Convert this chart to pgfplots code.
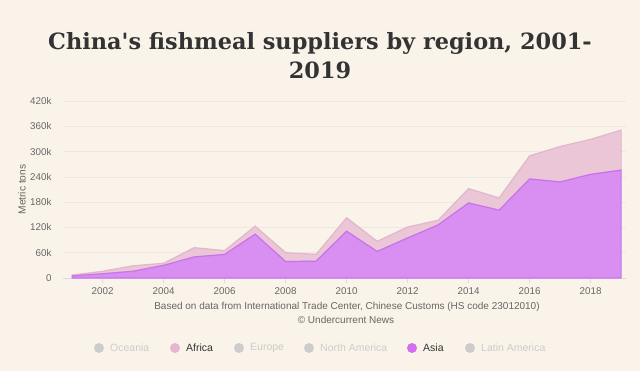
\documentclass[border=0pt]{standalone}
\usepackage{fontspec}
\setmainfont{Liberation Sans}
\newfontfamily\titlefont{DejaVu Serif}
\usepackage{pgfplots}
\pgfplotsset{compat=1.18}
\definecolor{bg}{HTML}{FAF3E9}
\definecolor{titlec}{HTML}{333333}
\definecolor{tickc}{HTML}{666666}
\definecolor{gridc}{HTML}{EDE8E0}
\definecolor{axisc}{HTML}{D8D8E8}
\definecolor{asiafill}{HTML}{D98EF2}
\definecolor{asialine}{HTML}{C774EA}
\definecolor{afrfill}{HTML}{EBC6D6}
\definecolor{afrline}{HTML}{E2B6CC}
\definecolor{asiamark}{HTML}{D46EF0}
\definecolor{afrmark}{HTML}{E8B4CE}
\definecolor{offc}{HTML}{CCCCCC}
\begin{document}
\begin{tikzpicture}[x=1pt,y=1pt]
\fill[bg] (0,0) rectangle (640,371);
\useasboundingbox (0,0) rectangle (640,371);
\node[font=\titlefont\bfseries\fontsize{22.4}{30}\selectfont, text=titlec, anchor=base] at (320,321) {China's fishmeal suppliers by region, 2001-};
\node[font=\titlefont\bfseries\fontsize{22.4}{30}\selectfont, text=titlec, anchor=base] at (320,292) {2019};
\begin{axis}[
  at={(63pt,93pt)}, anchor=south west,
  scale only axis, width=563pt, height=177pt,
  xmin=2000.7, xmax=2019.16, ymin=0, ymax=420000,
  stack plots=y,
  axis line style={draw=none},
  axis x line*=bottom,
  axis y line*=left,
  x axis line style={draw=axisc, line width=0.8pt},
  xtick={2002,2004,...,2018},
  ytick={0,60000,120000,180000,240000,300000,360000,420000},
  yticklabels={0,60k,120k,180k,240k,300k,360k,420k},
  scaled y ticks=false,
  /pgf/number format/1000 sep={},
  /pgf/number format/assume math mode=true,
  ymajorgrids, grid style={draw=gridc, line width=0.6pt},
  tick label style={font=\fontsize{9.8}{11}\selectfont, text=tickc},
  xtick style={draw=axisc, line width=0.6pt},
  ytick style={draw=none},
  major tick length=5pt,
  tick align=outside,
  xticklabel style={yshift=-1pt},
  yticklabel style={xshift=-3pt},
  ylabel={Metric tons},
  ylabel style={font=\fontsize{10.2}{12}\selectfont, text=tickc, at={(axis description cs:-0.0728,0.5)}, anchor=center},
  clip=false,
]
\addplot[draw=asialine, line width=1.2pt, fill=asiafill] coordinates {
(2001,5000) (2002,10000) (2003,16000) (2004,30000) (2005,50000) (2006,56000)
(2007,104000) (2008,39000) (2009,40000) (2010,111000) (2011,63000) (2012,95000)
(2013,126000) (2014,178000) (2015,161000) (2016,235000) (2017,228000) (2018,246000) (2019,256000)
} \closedcycle;
\addplot[draw=afrline, line width=1.2pt, fill=afrfill] coordinates {
(2001,2000) (2002,6000) (2003,13000) (2004,5000) (2005,22000) (2006,9000)
(2007,19000) (2008,21000) (2009,16000) (2010,32000) (2011,24000) (2012,26000)
(2013,11000) (2014,34000) (2015,29000) (2016,55000) (2017,84000) (2018,83000) (2019,95000)
} \closedcycle;
\end{axis}
\node[font=\fontsize{10}{12}\selectfont, text=tickc] at (347,64) {Based on data from International Trade Center, Chinese Customs (HS code 23012010)};
\node[font=\fontsize{10}{12}\selectfont, text=tickc] at (346,51) {© Undercurrent News};
\begin{scope}[every node/.style={font=\fontsize{10.5}{12}\selectfont, anchor=west, inner sep=0pt}]
\fill[offc] (99,23) circle (5);
\node[text=offc] at (110,23) {Oceania};
\fill[afrmark] (175,23) circle (5);
\node[text=titlec] at (186,23) {Africa};
\fill[offc] (239,23) circle (5);
\node[text=offc] at (250,23) {Europe};
\fill[offc] (309,23) circle (5);
\node[text=offc] at (320,23) {North America};
\fill[asiamark] (412,23) circle (5);
\node[text=titlec] at (423,23) {Asia};
\fill[offc] (470,23) circle (5);
\node[text=offc] at (481,23) {Latin America};
\end{scope}
\end{tikzpicture}
\end{document}
